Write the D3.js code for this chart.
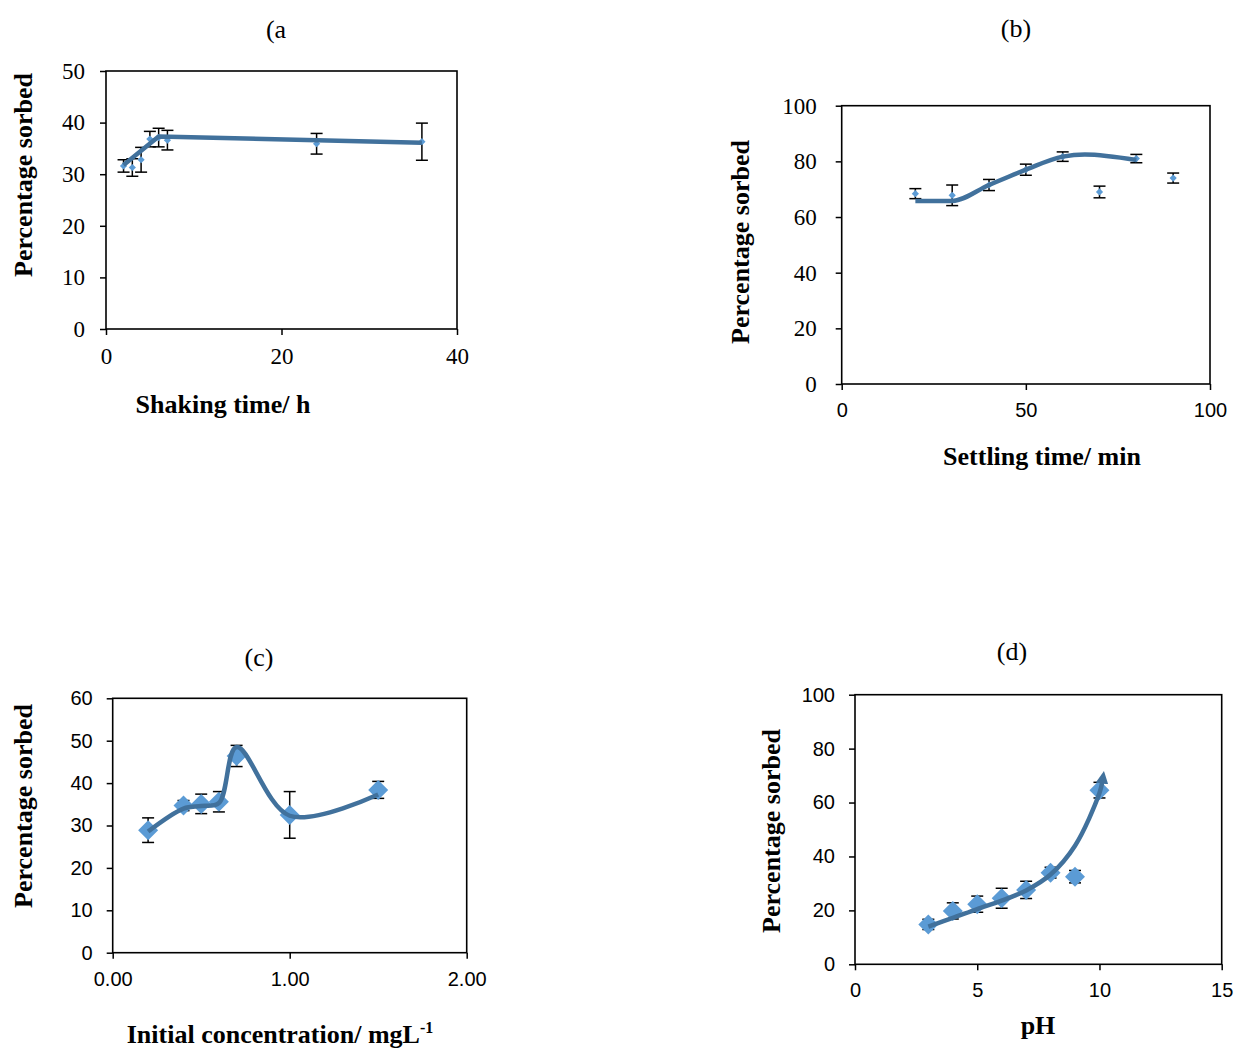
<!DOCTYPE html>
<html>
<head>
<meta charset="utf-8">
<script src="https://cdnjs.cloudflare.com/ajax/libs/d3/7.8.5/d3.min.js"></script>
<style>
  body { margin: 0; background: #fff; }
  .tick line { stroke: #000; stroke-width: 1.5; }
</style>
</head>
<body>
<div id="chart"></div>
<script>
// (a) shaking time
var shakeTime = [2, 3, 4, 5, 6, 7, 24, 36];
var shakeSorbed = [31.6, 31.3, 32.8, 36.8, 37.1, 36.6, 35.9, 36.3];
var shakeErr = [1.2, 1.7, 2.4, 1.5, 1.8, 1.9, 2.0, 3.6];
var shakeLineX = [2, 6, 36];
var shakeLineY = [31.8, 37.3, 36.1];

// (b) settling time
var settleTime = [20, 30, 40, 50, 60, 70, 80, 90];
var settleSorbed = [68.4, 67.8, 71.5, 77.0, 81.7, 69.0, 81.0, 74.0];
var settleErr = [1.8, 3.7, 2.0, 2.0, 1.7, 2.1, 1.5, 1.8];
var settleLineX = [20, 30, 40, 50, 60, 66, 80];
var settleLineY = [65.8, 65.8, 71.5, 77.0, 81.7, 82.5, 80.5];

// (c) initial concentration
var concInit = [0.2, 0.4, 0.5, 0.6, 0.7, 1.0, 1.5];
var concSorbed = [28.9, 34.7, 35.1, 35.6, 46.4, 32.5, 38.4];
var concErr = [2.9, 1.2, 2.3, 2.4, 2.5, 5.5, 2.0];
var concLineX = [0.2, 0.4, 0.5, 0.6, 0.7, 1.0, 1.5];
var concLineY = [28.6, 34.0, 34.6, 35.3, 48.5, 32.3, 37.3];

// (d) pH
var phValue = [3, 4, 5, 6, 7, 8, 9, 10];
var phSorbed = [14.8, 19.8, 22.3, 24.5, 27.6, 34.0, 32.5, 64.6];
var phErr = [1.9, 3.0, 3.0, 3.7, 3.2, 2.0, 2.3, 2.9];
var phLineX = [3, 4, 5, 6, 7, 8, 9, 10, 10.12];
var phLineY = [14.0, 17.2, 20.5, 23.6, 27.4, 33.3, 44.0, 63.5, 68.0];

var serif = "'Liberation Serif', 'Times New Roman', serif";
var sans = "'Liberation Sans', Arial, sans-serif";
var lineColor = "#41719c";
var markColor = "#5b9bd5";

var svg = d3.select("#chart").append("svg")
    .attr("width", 1234)
    .attr("height", 1050);

// arrow head for (d)
svg.append("defs").append("marker")
    .attr("id", "arrow")
    .attr("viewBox", "0 0 10 10")
    .attr("refX", 2)
    .attr("refY", 5)
    .attr("markerWidth", 2.8)
    .attr("markerHeight", 2.8)
    .attr("orient", "auto")
  .append("path")
    .attr("d", "M0,0 L10,5 L0,10 z")
    .attr("fill", lineColor);

var panels = [
  { title: "(a", xTitle: ["Shaking time/ h"], left: 106, right: 457, top: 71, bottom: 329,
    xDomain: [0, 40], xTicks: [0, 20, 40], yDomain: [0, 50], yTicks: d3.range(0, 51, 10),
    x: shakeTime, y: shakeSorbed, err: shakeErr, lx: shakeLineX, ly: shakeLineY,
    curve: d3.curveLinear, mark: 26, xFont: serif, yFont: serif, xFmt: d3.format("d"),
    yPad: 15, titleX: 276, titleY: 38, xTitleX: 223, xTitleY: 413, yTitleX: 32, yTitleY: 175 },
  { title: "(b)", xTitle: ["Settling time/ min"], left: 841.7, right: 1210, top: 105.7, bottom: 384,
    xDomain: [0, 100], xTicks: [0, 50, 100], yDomain: [0, 100], yTicks: d3.range(0, 101, 20),
    x: settleTime, y: settleSorbed, err: settleErr, lx: settleLineX, ly: settleLineY,
    curve: d3.curveMonotoneX, mark: 26, xFont: sans, yFont: serif, xFmt: d3.format("d"),
    yPad: 19, titleX: 1016, titleY: 37, xTitleX: 1042, xTitleY: 465, yTitleX: 749, yTitleY: 242 },
  { title: "(c)", xTitle: ["Initial concentration/ mgL", "-1"], left: 112.7, right: 466.7, top: 698.3, bottom: 952.7,
    xDomain: [0, 2], xTicks: [0, 1, 2], yDomain: [0, 60], yTicks: d3.range(0, 61, 10),
    x: concInit, y: concSorbed, err: concErr, lx: concLineX, ly: concLineY,
    curve: d3.curveCatmullRom, mark: 200, xFont: sans, yFont: sans, xFmt: d3.format(".2f"),
    yPad: 14, titleX: 259, titleY: 666, xTitleX: 280, xTitleY: 1043, yTitleX: 32, yTitleY: 806 },
  { title: "(d)", xTitle: ["pH"], left: 855, right: 1221.7, top: 694.7, bottom: 964.3,
    xDomain: [0, 15], xTicks: [0, 5, 10, 15], yDomain: [0, 100], yTicks: d3.range(0, 101, 20),
    x: phValue, y: phSorbed, err: phErr, lx: phLineX, ly: phLineY,
    curve: d3.curveCatmullRom, mark: 200, xFont: sans, yFont: sans, xFmt: d3.format("d"),
    yPad: 14, titleX: 1012, titleY: 660, xTitleX: 1038, xTitleY: 1034, yTitleX: 780, yTitleY: 831, arrow: true }
];

panels.forEach(drawPanel);

function drawPanel(p) {
  var g = svg.append("g");

  var xScale = d3.scaleLinear().domain(p.xDomain).range([p.left, p.right]);
  var yScale = d3.scaleLinear().domain(p.yDomain).range([p.bottom, p.top]);

  // plot frame
  g.append("rect")
      .attr("x", p.left)
      .attr("y", p.top)
      .attr("width", p.right - p.left)
      .attr("height", p.bottom - p.top)
      .attr("fill", "none")
      .attr("stroke", "#000")
      .attr("stroke-width", 1.6);

  var xAxis = d3.axisBottom(xScale).tickValues(p.xTicks).tickFormat(p.xFmt)
      .tickSize(6).tickSizeOuter(0).tickPadding(13);
  var yAxis = d3.axisLeft(yScale).tickValues(p.yTicks).tickFormat(d3.format("d"))
      .tickSize(6).tickSizeOuter(0).tickPadding(p.yPad);

  var gx = g.append("g")
      .attr("transform", "translate(0," + p.bottom + ")")
      .call(xAxis);
  gx.select(".domain").remove();
  gx.selectAll("text")
      .attr("fill", "#000")
      .style("font-family", p.xFont)
      .style("font-size", p.xFont === serif ? "23px" : "20px");

  var gy = g.append("g")
      .attr("transform", "translate(" + p.left + ",0)")
      .call(yAxis);
  gy.select(".domain").remove();
  gy.selectAll("text")
      .attr("fill", "#000")
      .style("font-family", p.yFont)
      .style("font-size", p.yFont === serif ? "23px" : "20px");

  // error bars
  var rows = p.x.map(function(v, i) { return { x: v, y: p.y[i], e: p.err[i] }; });
  var eb = g.append("g").selectAll("g").data(rows).enter().append("g")
      .attr("stroke", "#000")
      .attr("stroke-width", 1.5);
  eb.append("line")
      .attr("x1", function(d) { return xScale(d.x); })
      .attr("x2", function(d) { return xScale(d.x); })
      .attr("y1", function(d) { return yScale(d.y + d.e); })
      .attr("y2", function(d) { return yScale(d.y - d.e); });
  [1, -1].forEach(function(s) {
    eb.append("line")
        .attr("x1", function(d) { return xScale(d.x) - 6; })
        .attr("x2", function(d) { return xScale(d.x) + 6; })
        .attr("y1", function(d) { return yScale(d.y + s * d.e); })
        .attr("y2", function(d) { return yScale(d.y + s * d.e); });
  });

  // diamond markers
  var sym = d3.symbol().type(d3.symbolSquare).size(p.mark);
  g.append("g").selectAll("path").data(rows).enter().append("path")
      .attr("d", sym)
      .attr("transform", function(d) {
        return "translate(" + xScale(d.x) + "," + yScale(d.y) + ") rotate(45)";
      })
      .attr("fill", markColor);

  // smoothed line
  var line = d3.line()
      .x(function(d) { return xScale(d[0]); })
      .y(function(d) { return yScale(d[1]); })
      .curve(p.curve);
  var path = g.append("path")
      .datum(d3.zip(p.lx, p.ly))
      .attr("d", line)
      .attr("fill", "none")
      .attr("stroke", lineColor)
      .attr("stroke-width", 4.5)
      .attr("stroke-linejoin", "round");
  if (p.arrow) path.attr("marker-end", "url(#arrow)");

  // panel title
  g.append("text")
      .attr("x", p.titleX)
      .attr("y", p.titleY)
      .attr("text-anchor", "middle")
      .style("font-family", serif)
      .style("font-size", "26px")
      .text(p.title);

  // x axis title
  var xt = g.append("text")
      .attr("x", p.xTitleX)
      .attr("y", p.xTitleY)
      .attr("text-anchor", "middle")
      .style("font-family", serif)
      .style("font-size", "26px")
      .style("font-weight", "bold");
  xt.append("tspan").text(p.xTitle[0]);
  if (p.xTitle[1]) {
    xt.append("tspan")
        .attr("dy", -10)
        .style("font-size", "16px")
        .text(p.xTitle[1]);
  }

  // y axis title
  g.append("text")
      .attr("transform", "translate(" + p.yTitleX + "," + p.yTitleY + ") rotate(-90)")
      .attr("text-anchor", "middle")
      .style("font-family", serif)
      .style("font-size", "26px")
      .style("font-weight", "bold")
      .text("Percentage sorbed");
}
</script>
</body>
</html>
